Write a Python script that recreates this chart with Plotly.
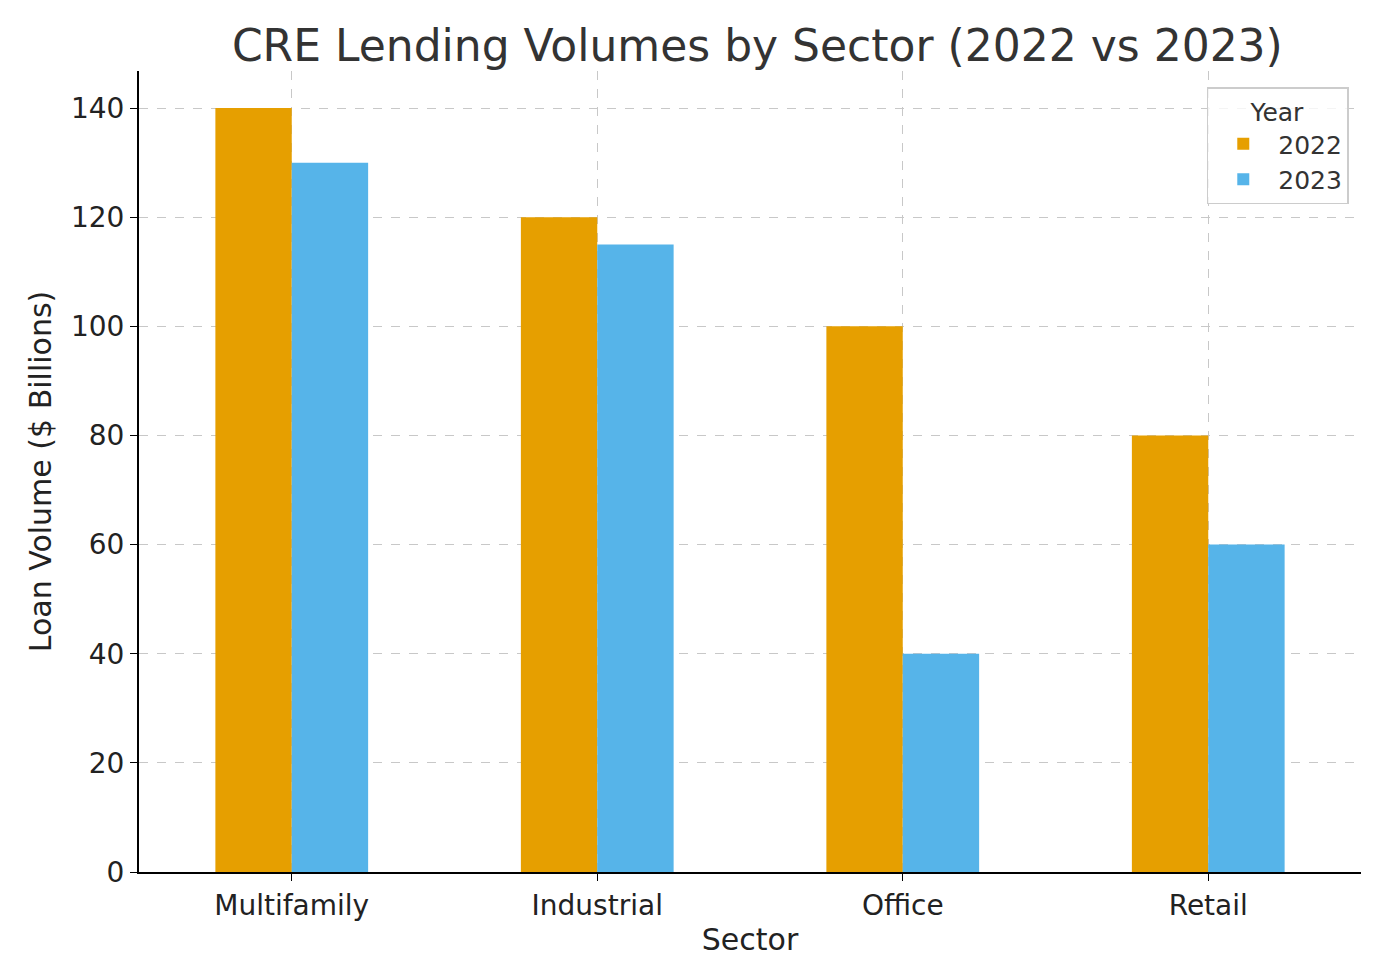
import plotly.graph_objects as go

sectors = ["Multifamily", "Industrial", "Office", "Retail"]
vol_2022 = [140, 120, 100, 80]
vol_2023 = [130, 115, 40, 60]
y_ticks = [0, 20, 40, 60, 80, 100, 120, 140]

pos = list(range(len(sectors)))

fig = go.Figure()
fig.add_trace(go.Bar(x=pos, y=vol_2022, name="2022", marker_color="#E69F00",
                     width=0.25, offset=-0.25, marker_line_width=0))
fig.add_trace(go.Bar(x=pos, y=vol_2023, name="2023", marker_color="#56B4E9",
                     width=0.25, offset=0, marker_line_width=0))

grid = dict(showgrid=True, gridcolor="#c8c8c8", griddash="dash", gridwidth=1)
fig.update_layout(
    width=1380, height=980,
    margin=dict(l=131, r=27, t=63, b=116),
    plot_bgcolor="white", paper_bgcolor="white",
    font=dict(family="DejaVu Sans", size=28, color="#222"),
    title=dict(text="CRE Lending Volumes by Sector (2022 vs 2023)", x=0.543, xanchor="center",
               y=0.962, yanchor="middle", font=dict(size=44, color="#333")),
    barmode="overlay",
    legend=dict(title=dict(text="Year", side="top center", font=dict(size=25, color="#333")),
                x=0.99, xanchor="right", y=0.98, yanchor="top", itemwidth=60,
                bordercolor="#ccc", borderwidth=1.5, bgcolor="rgba(255,255,255,0.8)",
                font=dict(size=25, color="#333")),
    showlegend=True,
)
fig.update_xaxes(tickvals=pos, ticktext=sectors, range=[-0.5, 3.5],
                 title=dict(text="Sector", font=dict(size=30), standoff=8),
                 showline=True, linecolor="black", linewidth=2,
                 ticks="outside", ticklen=7, tickcolor="black", **grid)
fig.update_yaxes(tickvals=y_ticks, range=[0, 146.8],
                 title=dict(text="Loan Volume ($ Billions)", font=dict(size=30), standoff=10),
                 showline=True, linecolor="black", linewidth=2, zeroline=False,
                 ticks="outside", ticklen=7, tickcolor="black", **grid)

fig.write_html("out.html")
